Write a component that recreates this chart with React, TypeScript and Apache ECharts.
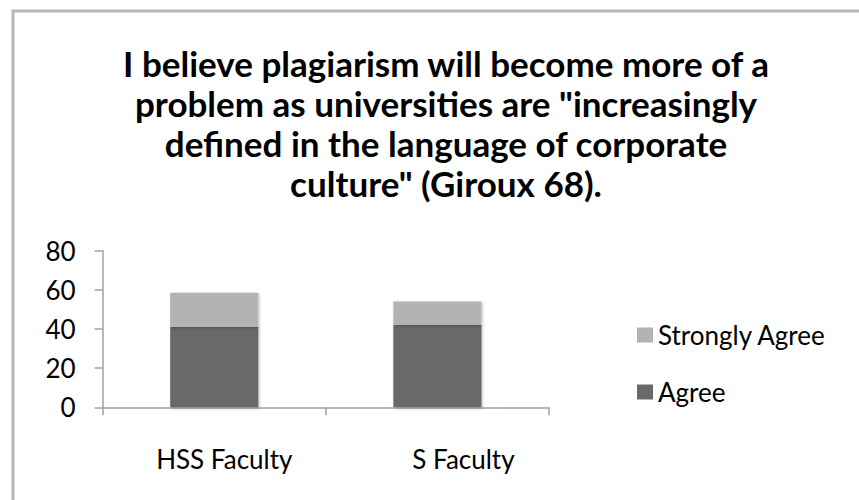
import React, { useEffect, useRef } from "react";
import * as echarts from "echarts";

const categories = ["HSS Faculty", "S Faculty"];
const agree = [41, 42];
const stronglyAgree = [17.5, 12];
const yTicks = [0, 20, 40, 60, 80];
const titleText =
  'I believe plagiarism will become more of a\nproblem as universities are "increasingly\ndefined in the language of corporate\nculture" (Giroux 68).';

export default function App() {
  const ref = useRef<HTMLDivElement>(null);
  useEffect(() => {
    if (!ref.current) return;
    const chart = echarts.init(ref.current, null, { renderer: "svg" });
    const font = "Lato, 'Open Sans', sans-serif";
    chart.setOption({
      animation: false,
      backgroundColor: "#ffffff",
      textStyle: { fontFamily: font },
      title: {
        text: titleText,
        left: 441,
        textAlign: "center",
        top: 38,
        textStyle: {
          fontFamily: font,
          fontWeight: "bold",
          fontSize: 35,
          lineHeight: 40,
          color: "#000000",
        },
      },
      graphic: [
        {
          type: "rect",
          shape: { x: 13, y: 11, width: 900, height: 600 },
          style: { fill: "none", stroke: "#b5b5b5", lineWidth: 3 },
          silent: true,
        },
      ],
      legend: {
        orient: "vertical",
        left: 632,
        top: 317,
        itemWidth: 16,
        itemHeight: 15,
        itemGap: 31,
        icon: "rect",
        data: ["Strongly Agree", "Agree"],
        textStyle: { fontFamily: font, fontSize: 26, color: "#000000" },
      },
      grid: { left: 102.7, right: 310, top: 250.7, bottom: 92.7 },
      xAxis: {
        type: "category",
        data: categories,
        axisLine: { lineStyle: { color: "#a0a0a0", width: 1.5 } },
        axisTick: { show: true, length: 8, lineStyle: { color: "#a0a0a0", width: 1.5 } },
        axisLabel: {
          margin: 39,
          fontSize: 26,
          color: "#000000",
          fontFamily: font,
          formatter: (v: string) => (v === categories[0] ? "{a|" + v + "}" : "{b|" + v + "}"),
          rich: {
            a: { fontSize: 26, fontFamily: font, color: "#000", padding: [0, 0, 0, 20] },
            b: { fontSize: 26, fontFamily: font, color: "#000", padding: [0, 0, 0, 52] },
          },
        },
      },
      yAxis: {
        type: "value",
        min: yTicks[0],
        max: yTicks[yTicks.length - 1],
        interval: 20,
        splitLine: { show: false },
        axisLine: { show: true, lineStyle: { color: "#a0a0a0", width: 1.5 } },
        axisTick: { show: true, length: 8, lineStyle: { color: "#a0a0a0", width: 1.5 } },
        axisLabel: { margin: 27, fontSize: 26, color: "#000000", fontFamily: font },
      },
      series: [
        {
          name: "Agree",
          type: "bar",
          stack: "total",
          data: agree,
          barWidth: "39.5%",
          itemStyle: {
            color: "#696969",
            shadowBlur: 3,
            shadowColor: "rgba(0,0,0,0.25)",
            shadowOffsetX: 1,
            shadowOffsetY: 1,
          },
        },
        {
          name: "Strongly Agree",
          type: "bar",
          stack: "total",
          data: stronglyAgree,
          barWidth: "39.5%",
          itemStyle: {
            color: "#b3b3b3",
            shadowBlur: 3,
            shadowColor: "rgba(0,0,0,0.25)",
            shadowOffsetX: 1,
            shadowOffsetY: 1,
          },
        },
      ],
    });
    return () => chart.dispose();
  }, []);
  return (
    <div
      ref={ref}
      style={{ position: "absolute", left: 0, top: 0, width: 859, height: 500 }}
    />
  );
}
